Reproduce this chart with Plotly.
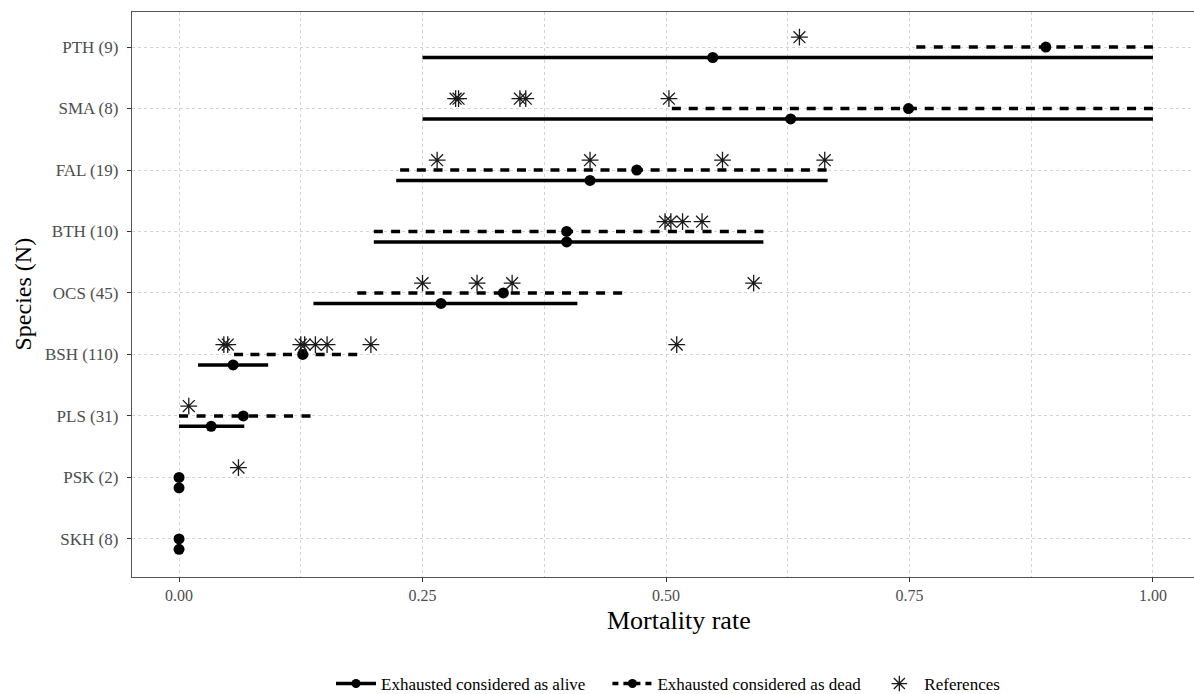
import plotly.graph_objects as go

# ---- data ----
species = ["SKH (8)", "PSK (2)", "PLS (31)", "BSH (110)", "OCS (45)",
           "BTH (10)", "FAL (19)", "SMA (8)", "PTH (9)"]

alive_est = [0.0, 0.0, 0.033, 0.0555, 0.269, 0.398, 0.422, 0.628, 0.548]
alive_lo = [None, None, 0.0, 0.0195, 0.138, 0.200, 0.223, 0.250, 0.250]
alive_hi = [None, None, 0.067, 0.0915, 0.409, 0.600, 0.666, 1.000, 1.000]

dead_est = [0.0, 0.0, 0.066, 0.127, 0.333, 0.398, 0.470, 0.749, 0.890]
dead_lo = [None, None, 0.0, 0.0565, 0.183, 0.200, 0.227, 0.506, 0.757]
dead_hi = [None, None, 0.135, 0.183, 0.455, 0.600, 0.665, 1.000, 1.000]

ref_species = (["PTH (9)"]
               + ["SMA (8)"] * 5
               + ["FAL (19)"] * 4
               + ["BTH (10)"] * 4
               + ["OCS (45)"] * 4
               + ["BSH (110)"] * 8
               + ["PLS (31)"]
               + ["PSK (2)"])
ref_values = ([0.637]
              + [0.284, 0.287, 0.350, 0.356, 0.503]
              + [0.265, 0.422, 0.558, 0.663]
              + [0.499, 0.505, 0.517, 0.537]
              + [0.250, 0.306, 0.342, 0.590]
              + [0.046, 0.050, 0.125, 0.129, 0.140, 0.152, 0.197, 0.511]
              + [0.010]
              + [0.061])

x_ticks = [0.0, 0.25, 0.5, 0.75, 1.0]
x_ticklabels = ["0.00", "0.25", "0.50", "0.75", "1.00"]
x_title = "Mortality rate"
y_title = "Species (N)"
legend_names = ["Exhausted considered as alive",
                "Exhausted considered as dead",
                "References"]

# ---- style ----
ALIVE_OFF = -0.17
REF_OFF = 0.16
FONT = "Liberation Serif"
BLACK = "#000000"
X_RANGE = [-0.0483, 1.0483]
W, H = 1200, 694
L, R, T, B = 132, 0, 12, 117
PW, PH = W - L - R, H - T - B
PX_PER_UNIT = PW / (X_RANGE[1] - X_RANGE[0])
DASH, PERIOD = 9.0, 17.0

idx = {s: i for i, s in enumerate(species)}

fig = go.Figure()

# dead (dashed) intervals: one trace per interval so the dash pattern ends on a dash
for i, (a, b) in enumerate(zip(dead_lo, dead_hi)):
    if a is None or b is None:
        continue
    lpx = (b - a) * PX_PER_UNIT
    n = max(1, round((lpx - DASH) / PERIOD))
    gap = (lpx - DASH) / n - DASH
    fig.add_trace(go.Scatter(x=[a, b], y=[i, i], mode="lines", showlegend=False,
                             line=dict(color=BLACK, width=3.5,
                                       dash=f"{DASH:.2f}px,{gap:.2f}px"),
                             hoverinfo="skip"))

# alive (solid) intervals
xs, ys = [], []
for i, (a, b) in enumerate(zip(alive_lo, alive_hi)):
    if a is None or b is None:
        continue
    xs += [a, b, None]
    ys += [i + ALIVE_OFF, i + ALIVE_OFF, None]
fig.add_trace(go.Scatter(x=xs, y=ys, mode="lines", showlegend=False,
                         line=dict(color=BLACK, width=3.5), hoverinfo="skip"))

# points
fig.add_trace(go.Scatter(x=dead_est, y=list(range(len(species))),
                         mode="markers", showlegend=False,
                         marker=dict(color=BLACK, size=11)))
fig.add_trace(go.Scatter(x=alive_est, y=[i + ALIVE_OFF for i in range(len(species))],
                         mode="markers", showlegend=False,
                         marker=dict(color=BLACK, size=11)))
# references
fig.add_trace(go.Scatter(x=ref_values, y=[idx[s] + REF_OFF for s in ref_species],
                         mode="markers", showlegend=False,
                         marker=dict(symbol="asterisk-open", size=14, color="#1a1a1a",
                                     line=dict(color="#1a1a1a", width=1.3))))

# legend entries
NB = "\u00a0"
fig.add_trace(go.Scatter(x=[None], y=[None], mode="lines+markers",
                         name=legend_names[0] + NB * 4,
                         line=dict(color=BLACK, width=3.5),
                         marker=dict(color=BLACK, size=9)))
fig.add_trace(go.Scatter(x=[None], y=[None], mode="lines+markers",
                         name=legend_names[1] + NB * 2,
                         line=dict(color=BLACK, width=3.5, dash="6px,5px"),
                         marker=dict(color=BLACK, size=9)))
fig.add_trace(go.Scatter(x=[None], y=[None], mode="markers",
                         name=legend_names[2],
                         marker=dict(symbol="asterisk-open", size=13, color="#1a1a1a",
                                     line=dict(color="#1a1a1a", width=1.3))))

grid_color = "#d3d3d3"
fig.update_layout(
    width=W, height=H,
    margin=dict(l=L, r=R, t=T, b=B, autoexpand=False),
    paper_bgcolor="white", plot_bgcolor="white",
    font=dict(family=FONT, color="#000000"),
    showlegend=True,
    legend=dict(orientation="h", x=(668 - L) / PW, xanchor="center",
                y=-(684 - 577) / PH, yanchor="middle",
                font=dict(family=FONT, size=17, color="#000000"),
                itemwidth=40, traceorder="normal"),
    xaxis=dict(
        range=X_RANGE,
        tickvals=x_ticks, ticktext=x_ticklabels,
        tickfont=dict(family=FONT, size=16, color="#4d4d4d"),
        automargin=False,
        showgrid=True, gridcolor=grid_color, griddash="3px,3px", gridwidth=0.8,
        minor=dict(dtick=0.125, tick0=0, showgrid=True, gridcolor=grid_color,
                   griddash="3px,3px", gridwidth=0.8),
        zeroline=False,
        showline=True, mirror=True, linecolor="#555555", linewidth=1.3,
        ticks="outside", ticklen=4, tickwidth=1.3, tickcolor="#333333",
    ),
    yaxis=dict(
        range=[-0.62, 8.57],
        tickvals=list(range(len(species))), ticktext=species,
        tickfont=dict(family=FONT, size=17, color="#4d4d4d"),
        ticklabelstandoff=5,
        automargin=False,
        showgrid=True, gridcolor=grid_color, griddash="3px,3px", gridwidth=0.8,
        zeroline=False,
        showline=True, mirror=True, linecolor="#555555", linewidth=1.3,
        ticks="outside", ticklen=4, tickwidth=1.3, tickcolor="#333333",
    ),
    annotations=[
        dict(text=x_title, xref="paper", yref="paper",
             x=(679 - L) / PW, y=-(620 - 577) / PH,
             xanchor="center", yanchor="middle", showarrow=False,
             font=dict(family=FONT, size=26, color="#000000")),
        dict(text=y_title, xref="paper", yref="paper",
             x=-(L - 22) / PW, y=0.5, textangle=-90,
             xanchor="center", yanchor="middle", showarrow=False,
             font=dict(family=FONT, size=24, color="#000000")),
    ],
)

fig.write_html("out.html",
               config={"displayModeBar": False},
               post_script="document.body.style.margin='0';"
                           "document.body.style.overflow='hidden';")
